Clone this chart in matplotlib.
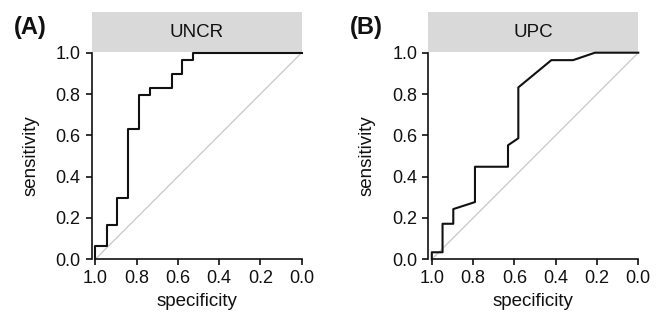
import matplotlib
matplotlib.use('Agg')
import matplotlib.pyplot as plt
from matplotlib.patches import Rectangle

plt.rcParams['font.family'] = ['Liberation Sans', 'DejaVu Sans']

# ROC curves: specificity / sensitivity pairs
uncr_spec = [1.0, 1.0, 0.945, 0.945, 0.895, 0.895, 0.839, 0.839, 0.787, 0.787,
             0.737, 0.737, 0.629, 0.629, 0.579, 0.579, 0.524, 0.524, 0.0]
uncr_sens = [0.0, 0.066, 0.066, 0.165, 0.165, 0.298, 0.298, 0.632, 0.632, 0.795,
             0.795, 0.829, 0.829, 0.897, 0.897, 0.963, 0.963, 1.0, 1.0]

upc_spec = [1.0, 1.0, 0.948, 0.948, 0.896, 0.896, 0.791, 0.791, 0.631, 0.631,
            0.581, 0.581, 0.421, 0.316, 0.210, 0.0]
upc_sens = [0.0, 0.034, 0.034, 0.172, 0.172, 0.243, 0.277, 0.448, 0.448, 0.552,
            0.586, 0.832, 0.964, 0.964, 1.0, 1.0]

panels = [('(A)', 'UNCR', uncr_spec, uncr_sens),
          ('(B)', 'UPC', upc_spec, upc_sens)]
ticks = [0.0, 0.2, 0.4, 0.6, 0.8, 1.0]

fig = plt.figure(figsize=(6.56, 3.2), dpi=100)
lefts = [91.7 / 656, 428.3 / 656]

for left, (tag, name, spec, sens) in zip(lefts, panels):
    ax = fig.add_axes([left, 0.1897, 0.3201, 0.6456])
    ax.plot([1, 0], [0, 1], color='#cccccc', lw=1.0, zorder=1)
    ax.plot(spec, sens, color='#111111', lw=1.5, zorder=2, clip_on=False)
    ax.set_xlim(1.017, 0)
    ax.set_ylim(0, 1)
    ax.set_xticks(ticks)
    ax.set_yticks(ticks)
    ax.set_xticklabels(['%.1f' % t for t in ticks])
    ax.set_yticklabels(['%.1f' % t for t in ticks])
    for s in ['top', 'right']:
        ax.spines[s].set_visible(False)
    for s in ['left', 'bottom']:
        ax.spines[s].set_linewidth(1.2)
        ax.spines[s].set_color('#111111')
    ax.spines['bottom'].set_bounds(1.0, 0.0)
    ax.tick_params(length=4, width=1.2, color='#111111', labelsize=13,
                   labelcolor='#111111', pad=4)
    ax.set_xlabel('specificity', fontsize=13.5, color='#111111')
    ax.set_ylabel('sensitivity', fontsize=13.5, color='#111111')
    ax.xaxis.set_label_coords(0.5, -0.165)
    ax.yaxis.set_label_coords(-0.25, 0.5)
    # grey strip with panel name
    ax.add_patch(Rectangle((0, 1.005), 1.0, 0.19, transform=ax.transAxes,
                           facecolor='#d9d9d9', edgecolor='none', clip_on=False))
    ax.text(0.5, 1.1, name, transform=ax.transAxes, ha='center', va='center',
            fontsize=13.5, color='#111111')
    fig.text(left - 0.094, 0.915, tag, ha='center', va='center',
             fontsize=17, fontweight='bold', color='#111111')

fig.savefig('out.png', dpi=100)
